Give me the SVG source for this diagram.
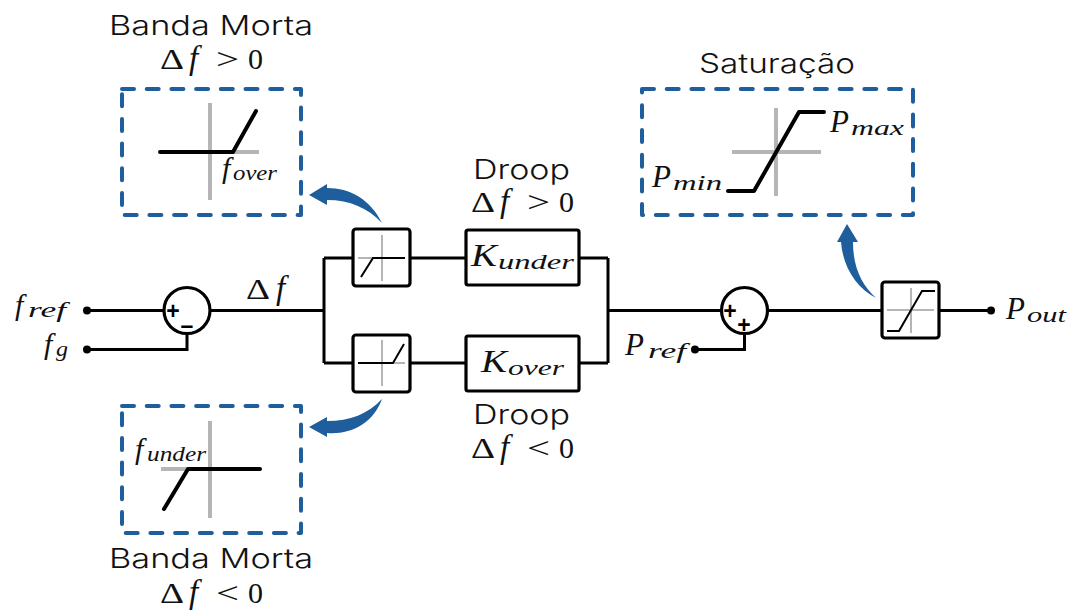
<svg xmlns="http://www.w3.org/2000/svg" width="1073" height="610" viewBox="0 0 1073 610">
<style>
.w{fill:none;stroke:#000;stroke-width:3}
.b{fill:#fff;stroke:#000;stroke-width:3.2}
.g{fill:none;stroke:#b5b5b5;stroke-width:4}
.gs{fill:none;stroke:#b5b5b5;stroke-width:2}
.k{fill:none;stroke:#000;stroke-width:4;stroke-linecap:round;stroke-linejoin:round}
.ks{fill:none;stroke:#000;stroke-width:2}
.d{fill:none;stroke:#1f5e9c;stroke-width:4;stroke-dasharray:12 12.7;stroke-linecap:round;stroke-linejoin:round}
.a{fill:#1f5e9c}
.t{font-family:"Inter","Liberation Sans",sans-serif;font-size:27px;font-weight:350;fill:#111}
.m{font-family:"Liberation Serif",serif;font-style:italic;font-size:30px;fill:#111}
.u{font-style:normal;font-size:30px}
.f{font-size:33px}
.c{font-size:31px}
.s{font-size:20px}
.p{font-family:"Liberation Sans",sans-serif;font-weight:bold;font-size:23px;text-anchor:middle;fill:#000}
</style>
<g id="connectors">
<path class="w" d="M87 310.5H163M87 349.5H187V334M211 310.5H324M324 258V363M324 258H353M324 363H353M410 258H466M410 363H466M579 258H608M579 363H608M608 258V363M608 310.5H721M695 349.5H744.5V334M768 310.5H882M939 310.5H991"/>
<circle cx="87" cy="310.5" r="4"/><circle cx="87" cy="349.5" r="4"/><circle cx="695" cy="349.5" r="4"/><circle cx="991" cy="310.5" r="4"/>
<path class="a" d="M309 195L327 184V188C350 188 370 199 382 223C368 208 350 200 327 200V205Z"/>
<path class="a" d="M309 427L327 417V421C350 421 368 414 382 399C373 424 350 435 327 433V437Z"/>
<path class="a" d="M847 224L858 242H853C853 268 862 285 876 298C857 288 843 268 841 242H837Z"/>
</g>
<g id="in-ref"><text class="m" y="315"><tspan x="15">f</tspan><tspan class="s" x="28" dy="2" textLength="38" lengthAdjust="spacingAndGlyphs">ref</tspan></text></g>
<g id="in-g"><text class="m" y="354"><tspan x="44">f</tspan><tspan class="s" x="56" dy="2" textLength="12" lengthAdjust="spacingAndGlyphs">g</tspan></text></g>
<g id="sum1"><circle class="b" cx="187" cy="310.5" r="23"/><text class="p" x="173" y="319">+</text><text class="p" x="187" y="333">–</text></g>
<g id="delta-f"><text class="m" y="299"><tspan class="u" x="246" textLength="24" lengthAdjust="spacingAndGlyphs">Δ</tspan><tspan class="f" x="276">f</tspan></text></g>
<g id="dz-under"><rect class="b" x="353" y="229" width="57" height="57" rx="3"/><path class="gs" d="M382 235V281M358 258H405"/><path class="ks" d="M361 277L373 258H405"/></g>
<g id="dz-over"><rect class="b" x="353" y="335" width="57" height="57" rx="3"/><path class="gs" d="M382 340V386M358 363H405"/><path class="ks" d="M358 363H393L404 344"/></g>
<g id="k-under"><rect class="b" x="466" y="230" width="113" height="55" rx="2"/><text class="m" y="266"><tspan class="c" x="471" textLength="26" lengthAdjust="spacingAndGlyphs">K</tspan><tspan class="s" x="498" dy="3" textLength="76" lengthAdjust="spacingAndGlyphs">under</tspan></text></g>
<g id="k-over"><rect class="b" x="466" y="336" width="113" height="55" rx="2"/><text class="m" y="372"><tspan class="c" x="481" textLength="26" lengthAdjust="spacingAndGlyphs">K</tspan><tspan class="s" x="508" dy="3" textLength="56" lengthAdjust="spacingAndGlyphs">over</tspan></text></g>
<g id="droop-top"><text class="t" x="473" y="179" textLength="97" lengthAdjust="spacingAndGlyphs">Droop</text>
<text class="m" y="212"><tspan class="u" x="471" textLength="24" lengthAdjust="spacingAndGlyphs">Δ</tspan><tspan class="f" x="500">f</tspan><tspan class="u" x="527" textLength="23" lengthAdjust="spacingAndGlyphs">&gt;</tspan><tspan class="u" x="559">0</tspan></text></g>
<g id="droop-bottom"><text class="t" x="473" y="424" textLength="97" lengthAdjust="spacingAndGlyphs">Droop</text>
<text class="m" y="458"><tspan class="u" x="471" textLength="24" lengthAdjust="spacingAndGlyphs">Δ</tspan><tspan class="f" x="500">f</tspan><tspan class="u" x="527" textLength="23" lengthAdjust="spacingAndGlyphs">&lt;</tspan><tspan class="u" x="559">0</tspan></text></g>
<g id="sum2"><circle class="b" cx="744.5" cy="310.5" r="23"/><text class="p" x="730" y="319">+</text><text class="p" x="744" y="333">+</text></g>
<g id="p-ref"><text class="m" y="355"><tspan class="c" x="625">P</tspan><tspan class="s" x="648" dy="3" textLength="38" lengthAdjust="spacingAndGlyphs">ref</tspan></text></g>
<g id="sat"><rect class="b" x="882" y="282" width="57" height="56" rx="3"/><path class="gs" d="M911 288V333M887 310H934"/><path class="ks" d="M887 331H899L922 291H935"/></g>
<g id="p-out"><text class="m" y="319"><tspan class="c" x="1006">P</tspan><tspan class="s" x="1027" dy="3" textLength="39" lengthAdjust="spacingAndGlyphs">out</tspan></text></g>
<g id="box-over">
<text class="t" x="109" y="35" textLength="204" lengthAdjust="spacingAndGlyphs">Banda Morta</text>
<text class="m" y="69"><tspan class="u" x="160" textLength="24" lengthAdjust="spacingAndGlyphs">Δ</tspan><tspan class="f" x="189">f</tspan><tspan class="u" x="216" textLength="23" lengthAdjust="spacingAndGlyphs">&gt;</tspan><tspan class="u" x="248">0</tspan></text>
<rect class="d" x="122" y="89" width="179" height="126"/>
<path class="g" d="M210 103V200M210 152H259"/><path class="k" d="M160 152H233L256 111"/>
<text class="m" y="178"><tspan x="222">f</tspan><tspan class="s" x="233" dy="2" textLength="44" lengthAdjust="spacingAndGlyphs">over</tspan></text>
</g>
<g id="box-under">
<rect class="d" x="122" y="406" width="179" height="127"/>
<path class="g" d="M210 421V518M161 469H188"/><path class="k" d="M164 509L188 469H260"/>
<text class="m" y="459"><tspan x="135">f</tspan><tspan class="s" x="147" dy="2" textLength="59" lengthAdjust="spacingAndGlyphs">under</tspan></text>
<text class="t" x="109" y="568" textLength="204" lengthAdjust="spacingAndGlyphs">Banda Morta</text>
<text class="m" y="603"><tspan class="u" x="160" textLength="24" lengthAdjust="spacingAndGlyphs">Δ</tspan><tspan class="f" x="189">f</tspan><tspan class="u" x="216" textLength="23" lengthAdjust="spacingAndGlyphs">&lt;</tspan><tspan class="u" x="248">0</tspan></text>
</g>
<g id="box-sat">
<text class="t" x="699" y="73" textLength="156" lengthAdjust="spacingAndGlyphs">Saturação</text>
<rect class="d" x="642" y="89" width="271" height="126"/>
<path class="g" d="M776 108V196M732 152H821"/><path class="k" d="M728 191H754L799 112H824"/>
<text class="m" y="132"><tspan class="c" x="830">P</tspan><tspan class="s" x="851" dy="3" textLength="53" lengthAdjust="spacingAndGlyphs">max</tspan></text>
<text class="m" y="187"><tspan class="c" x="652">P</tspan><tspan class="s" x="673" dy="3" textLength="49" lengthAdjust="spacingAndGlyphs">min</tspan></text>
</g>
</svg>
